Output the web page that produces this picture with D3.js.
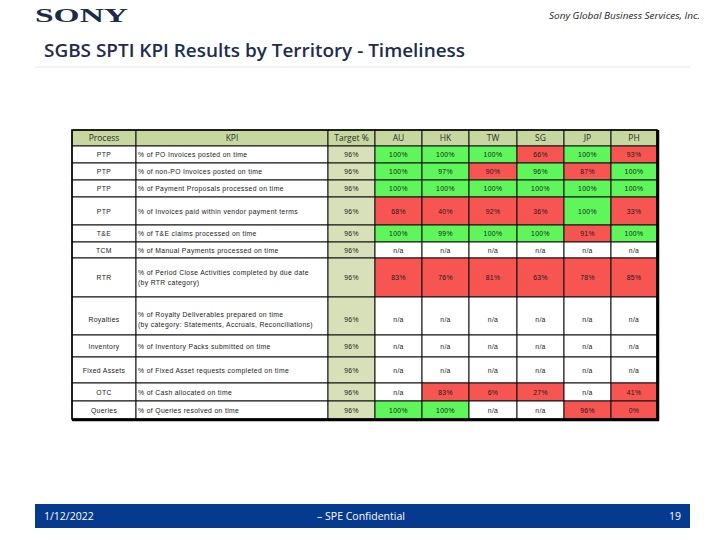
<!DOCTYPE html>
<html><head><meta charset="utf-8">
<script src="https://cdn.jsdelivr.net/npm/d3@7/dist/d3.min.js"></script>
<style>body{margin:0;background:#fff}svg{display:block}</style>
</head><body>
<script>
// ---------- data ----------
const headers = ["Process","KPI","Target %"];
const territories = ["AU","HK","TW","SG","JP","PH"];
const processes = ["PTP","PTP","PTP","PTP","T&E","TCM","RTR","Royalties","Inventory","Fixed Assets","OTC","Queries"];
const kpis = [
  ["% of PO Invoices posted on time"],
  ["% of non-PO Invoices posted on time"],
  ["% of Payment Proposals processed on time"],
  ["% of Invoices paid within vendor payment terms"],
  ["% of T&E claims processed on time"],
  ["% of Manual Payments processed on time"],
  ["% of Period Close Activities completed by due date","(by RTR category)"],
  ["% of Royalty Deliverables prepared on time","(by category: Statements, Accruals, Reconciliations)"],
  ["% of Inventory Packs submitted on time"],
  ["% of Fixed Asset requests completed on time"],
  ["% of Cash allocated on time"],
  ["% of Queries resolved on time"]
];
const targets = ["96%","96%","96%","96%","96%","96%","96%","96%","96%","96%","96%","96%"];
const results = [
  ["100%","100%","100%","66%","100%","93%"],
  ["100%","97%","90%","96%","87%","100%"],
  ["100%","100%","100%","100%","100%","100%"],
  ["68%","40%","92%","36%","100%","33%"],
  ["100%","99%","100%","100%","91%","100%"],
  ["n/a","n/a","n/a","n/a","n/a","n/a"],
  ["83%","76%","81%","63%","78%","85%"],
  ["n/a","n/a","n/a","n/a","n/a","n/a"],
  ["n/a","n/a","n/a","n/a","n/a","n/a"],
  ["n/a","n/a","n/a","n/a","n/a","n/a"],
  ["n/a","83%","6%","27%","n/a","41%"],
  ["100%","100%","n/a","n/a","96%","0%"]
];
// status: g = met, r = missed, n = not applicable
const status = [
  ["g","g","g","r","g","r"],
  ["g","g","r","g","r","g"],
  ["g","g","g","g","g","g"],
  ["r","r","r","r","g","r"],
  ["g","g","g","g","r","g"],
  ["n","n","n","n","n","n"],
  ["r","r","r","r","r","r"],
  ["n","n","n","n","n","n"],
  ["n","n","n","n","n","n"],
  ["n","n","n","n","n","n"],
  ["n","r","r","r","n","r"],
  ["g","g","n","n","r","r"]
];

// ---------- layout ----------
const W = 720, H = 540;
const colWeights = [64, 192, 47, 47, 47, 48, 47, 47, 46]; // column widths
const rowWeights = [16, 17, 17, 17, 28, 17, 16, 39, 38, 22, 26, 18, 18]; // header + rows
const tableX = 72, tableY = 130;
const statusFill = {g:"#5ef65b", r:"#f65552", n:"#ffffff"};

const svg = d3.select("body").append("svg").attr("width", W).attr("height", H)
  .style("font-family","'Liberation Sans', Arial, sans-serif");

// header area
svg.append("text").attr("x", 35).attr("y", 22).text("SONY")
  .attr("font-family","'Liberation Serif','DejaVu Serif',serif").attr("font-weight","bold")
  .attr("font-size", 19).attr("fill","#1b2b4b").attr("textLength", 93).attr("lengthAdjust","spacingAndGlyphs");
svg.append("text").attr("x", 700).attr("y", 19).attr("text-anchor","end")
  .text("Sony Global Business Services, Inc.")
  .attr("font-family","'Open Sans',sans-serif").attr("font-style","italic")
  .attr("font-size", 9).attr("fill","#222").attr("textLength", 151).attr("lengthAdjust","spacingAndGlyphs");
svg.append("text").attr("x", 44).attr("y", 57)
  .text("SGBS SPTI KPI Results by Territory - Timeliness")
  .attr("font-family","'Open Sans',sans-serif").attr("font-size", 18).attr("font-weight", 600).attr("fill","#1c2d4f")
  .attr("textLength", 421).attr("lengthAdjust","spacingAndGlyphs");
svg.append("line").attr("x1",35).attr("x2",690).attr("y1",67).attr("y2",67)
  .attr("stroke","#e6e6e6").attr("stroke-width",1);

// scales built from cumulative widths / heights
const colEdges = d3.cumsum([0, ...colWeights]);
const rowEdges = d3.cumsum([0, ...rowWeights]);
const xEdge = d3.scaleLinear().domain([0, colEdges[colEdges.length-1]])
  .range([tableX, tableX + colEdges[colEdges.length-1]]);
const yEdge = d3.scaleLinear().domain([0, rowEdges[rowEdges.length-1]])
  .range([tableY, tableY + rowEdges[rowEdges.length-1]]);
const colX = i => xEdge(colEdges[i]);
const colW = i => xEdge(colEdges[i+1]) - xEdge(colEdges[i]);
const rowY = i => yEdge(rowEdges[i]);
const rowH = i => yEdge(rowEdges[i+1]) - yEdge(rowEdges[i]);
const rowTextShift = {8: 3}; // Royalties text sits low in its row

const g = svg.append("g");
const cols = headers.concat(territories);

// header row
cols.forEach((h, c) => {
  g.append("rect").attr("x", colX(c)).attr("y", rowY(0)).attr("width", colW(c)).attr("height", rowH(0))
    .attr("fill", "#c6d8a0").attr("stroke","#111").attr("stroke-width",1);
  g.append("text").attr("x", colX(c)+colW(c)/2).attr("y", rowY(0)+rowH(0)/2+3)
    .attr("text-anchor","middle").attr("font-family","'Open Sans',sans-serif")
    .attr("font-size", 8.5).attr("fill","#2a2a2a").text(h);
});

// body rows
processes.forEach((p, r) => {
  const ri = r + 1;
  const y0 = rowY(ri), h = rowH(ri);
  const cy = y0 + h/2 + (rowTextShift[ri] || 0);
  const cells = [
    {c:0, fill:"#fff", text:[p], anchor:"middle"},
    {c:1, fill:"#fff", text:kpis[r], anchor:"start"},
    {c:2, fill:"#d7e0b9", text:[targets[r]], anchor:"middle"}
  ];
  territories.forEach((t, k) => cells.push({c:3+k, fill:statusFill[status[r][k]], text:[results[r][k]], anchor:"middle"}));
  cells.forEach(cell => {
    g.append("rect").attr("x", colX(cell.c)).attr("y", y0).attr("width", colW(cell.c)).attr("height", h)
      .attr("fill", cell.fill).attr("stroke","#111").attr("stroke-width",1);
    const tx = cell.anchor === "start" ? colX(cell.c)+2 : colX(cell.c)+colW(cell.c)/2;
    const n = cell.text.length;
    cell.text.forEach((line, li) => {
      g.append("text").attr("x", tx).attr("y", cy + 2.5 + (li - (n-1)/2)*10)
        .attr("text-anchor", cell.anchor).attr("font-size", 6.8).attr("letter-spacing", 0.35)
        .attr("fill","#1a1a1a").text(line);
    });
  });
});

// outer thick border
const tW = colEdges[colEdges.length-1], tH = rowEdges[rowEdges.length-1];
g.append("rect").attr("x", tableX).attr("y", tableY).attr("width", xEdge(tW)-tableX).attr("height", yEdge(tH)-tableY)
  .attr("fill","none").attr("stroke","#000").attr("stroke-width",1.5);
g.append("line").attr("x1", tableX).attr("x2", xEdge(tW)+2).attr("y1", yEdge(tH)+1).attr("y2", yEdge(tH)+1)
  .attr("stroke","#000").attr("stroke-width",2.5);
g.append("line").attr("x1", xEdge(tW)+1).attr("x2", xEdge(tW)+1).attr("y1", tableY).attr("y2", yEdge(tH)+2)
  .attr("stroke","#000").attr("stroke-width",2.5);

// footer
svg.append("rect").attr("x",35).attr("y",504).attr("width",655).attr("height",24).attr("fill","#063a8f");
const ft = [{x:44, a:"start", t:"1/12/2022"},{x:361, a:"middle", t:"– SPE Confidential"},{x:681, a:"end", t:"19"}];
ft.forEach(f => svg.append("text").attr("x", f.x).attr("y", 520).attr("text-anchor", f.a)
  .attr("font-family","'Open Sans',sans-serif").attr("font-size", 10.5).attr("fill","#fff").text(f.t));
</script>
</body></html>
